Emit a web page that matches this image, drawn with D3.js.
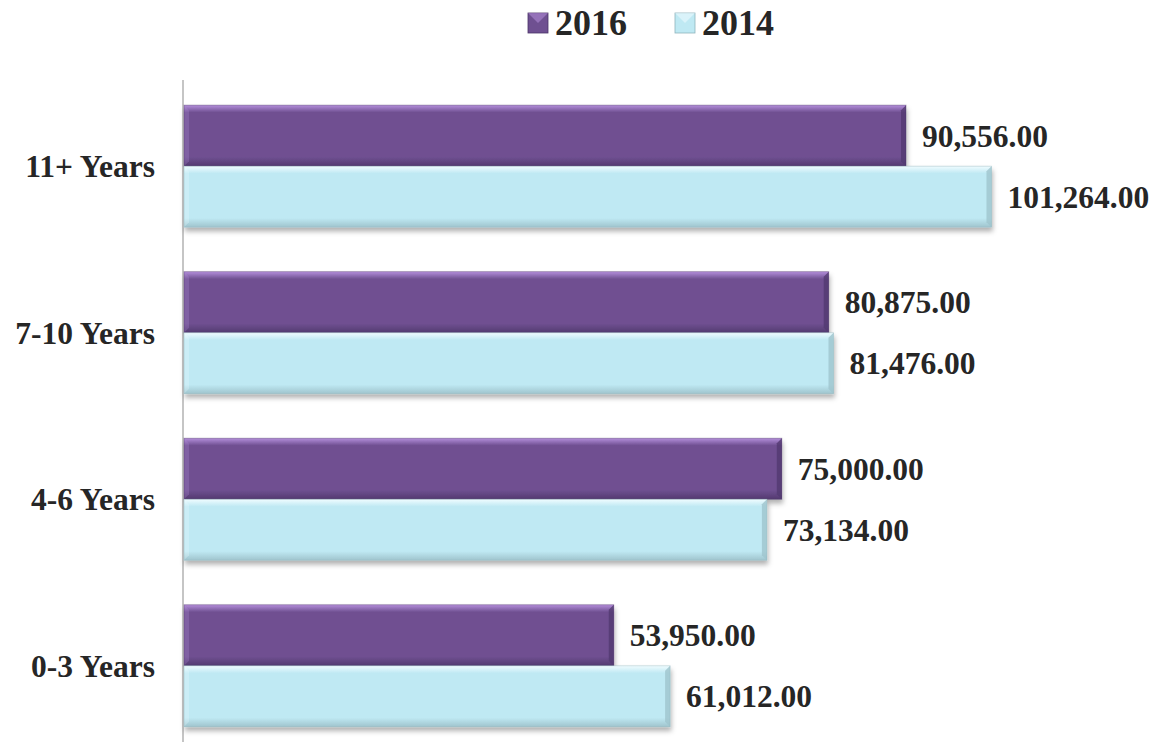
<!DOCTYPE html>
<html>
<head>
<meta charset="utf-8">
<script src="https://cdn.jsdelivr.net/npm/d3@7"></script>
<style>
  body { margin: 0; background: #fff; }
  text { font-family: "Liberation Serif", "Times New Roman", serif; font-weight: bold; fill: #262626; }
</style>
</head>
<body>
<svg id="chart" width="1156" height="742"></svg>
<script>
// categories top to bottom, values per series
var categories = ["11+ Years", "7-10 Years", "4-6 Years", "0-3 Years"];
var series = ["2016", "2014"];
var values2016 = [90556, 80875, 75000, 53950];
var values2014 = [101264, 81476, 73134, 61012];

var colors = {
  "2016": { base: "#6f5091", light: "#b48edb", dark: "#533a70", edge: "#4a3366" },
  "2014": { base: "#bfe9f3", light: "#f0fcff", dark: "#9fc4cd", edge: "#8fb3bc" }
};

var svg = d3.select("#chart");
var defs = svg.append("defs");

var shadow = defs.append("filter").attr("id", "shadow")
  .attr("x", "-5%").attr("y", "-20%").attr("width", "115%").attr("height", "160%");
shadow.append("feDropShadow").attr("dx", 1).attr("dy", 4).attr("stdDeviation", 2.5)
  .attr("flood-color", "#000").attr("flood-opacity", 0.3);

// vertical gradients per series: light top strip fading into base, darker bottom
series.forEach(function(s) {
  var c = colors[s];
  var gr = defs.append("linearGradient").attr("id", "grad" + s)
    .attr("x1", 0).attr("y1", 0).attr("x2", 0).attr("y2", 1);
  [[0, c.light], [0.12, c.base], [0.85, c.base], [1, c.dark]].forEach(function(st) {
    gr.append("stop").attr("offset", st[0]).attr("stop-color", st[1]);
  });
});

var x = d3.scaleLinear().domain([0, 100000]).range([183, 981.4]);
var y0 = d3.scaleBand().domain(categories).range([83, 749]).paddingInner(0.267).paddingOuter(0.133);
var y1 = d3.scaleBand().domain(series).range([0, y0.bandwidth()]);

var rows = [];
categories.forEach(function(c, i) {
  rows.push({ cat: c, s: "2016", v: values2016[i] });
  rows.push({ cat: c, s: "2014", v: values2014[i] });
});

// axis line
svg.append("line")
  .attr("x1", x(0)).attr("x2", x(0))
  .attr("y1", 80).attr("y2", 742)
  .attr("stroke", "#a6a6a6").attr("stroke-width", 1.3);

var bev = 5;
var bars = svg.selectAll("g.bar").data(rows).enter().append("g").attr("class", "bar")
  .attr("filter", "url(#shadow)");

bars.each(function(d) {
  var g = d3.select(this);
  var x0 = x(0) + 1, x1 = x(d.v);
  var top = y0(d.cat) + y1(d.s), h = y1.bandwidth(), bot = top + h;
  var c = colors[d.s];
  g.append("rect").attr("x", x0).attr("y", top).attr("width", x1 - x0).attr("height", h)
    .attr("fill", "url(#grad" + d.s + ")");
  // left bevel
  g.append("polygon").attr("points", [[x0, top], [x0 + bev, top + bev], [x0 + bev, bot - bev], [x0, bot]].join(" "))
    .attr("fill", c.light).attr("opacity", 0.25);
  // right bevel
  g.append("polygon").attr("points", [[x1, top], [x1, bot], [x1 - bev, bot - bev], [x1 - bev, top + bev]].join(" "))
    .attr("fill", c.dark).attr("opacity", 0.8);
  g.append("rect").attr("x", x0).attr("y", top).attr("width", x1 - x0).attr("height", h)
    .attr("fill", "none").attr("stroke", c.edge).attr("stroke-opacity", 0.5).attr("stroke-width", 0.8);
});

// value labels
svg.selectAll("text.val").data(rows).enter().append("text").attr("class", "val")
  .attr("x", function(d) { return x(d.v) + 16; })
  .attr("y", function(d) { return y0(d.cat) + y1(d.s) + y1.bandwidth() / 2; })
  .attr("dy", "0.35em")
  .style("font-size", "31.5px")
  .text(function(d) { return d3.format(",.2f")(d.v); });

// category labels
svg.selectAll("text.cat").data(categories).enter().append("text").attr("class", "cat")
  .attr("x", 155)
  .attr("y", function(d) { return y0(d) + y0.bandwidth() / 2; })
  .attr("dy", "0.35em")
  .attr("text-anchor", "end")
  .style("font-size", "31.5px")
  .text(function(d) { return d; });

// legend
var legendX = [528, 675];
var leg = svg.selectAll("g.leg").data(series).enter().append("g").attr("class", "leg")
  .attr("transform", function(d, i) { return "translate(" + legendX[i] + ",0)"; });
leg.append("rect").attr("x", 0).attr("y", 13).attr("width", 20).attr("height", 20)
  .attr("fill", function(d) { return colors[d].base; })
  .attr("stroke", function(d) { return colors[d].edge; }).attr("stroke-width", 0.8);
leg.append("polygon").attr("points", "0,13 20,13 10,23")
  .attr("fill", function(d) { return colors[d].light; }).attr("opacity", 0.55);
leg.append("text").attr("x", 27).attr("y", 35)
  .style("font-size", "36px")
  .text(function(d) { return d; });
</script>
</body>
</html>
